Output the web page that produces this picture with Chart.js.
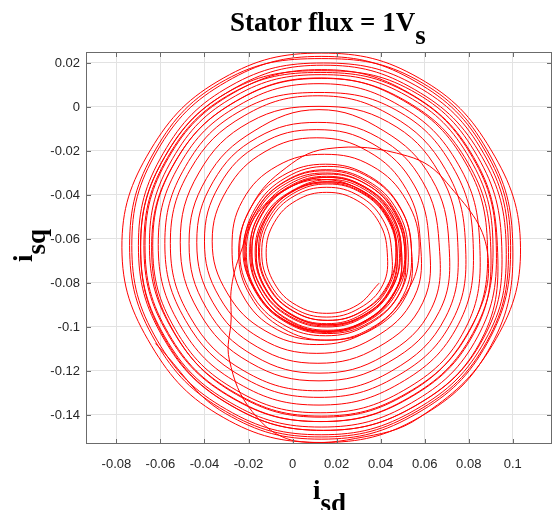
<!DOCTYPE html>
<html><head><meta charset="utf-8">
<script src="https://cdn.jsdelivr.net/npm/chart.js@4.4.1/dist/chart.umd.min.js"></script>
<style>
html,body{margin:0;padding:0;background:#fff;}
#wrap{position:relative;width:553px;height:510px;}
.lbl{position:absolute;font-family:'Liberation Serif','Times New Roman',serif;font-weight:bold;font-size:27px;line-height:27px;color:#000;white-space:nowrap;}
.lbl .sub{position:relative;top:13px;}
#title{left:230px;top:9px;}
#xlab{left:313px;top:477px;}
#ylab{left:10px;top:262px;transform-origin:0 0;transform:rotate(-90deg);}
</style></head>
<body>
<div id="wrap"><canvas id="c"></canvas>
<div class="lbl" id="title">Stator flux = 1V<span class="sub">s</span></div>
<div class="lbl" id="xlab">i<span class="sub">sd</span></div>
<div class="lbl" id="ylab">i<span class="sub">sq</span></div>
</div>
<script>
// tick values
var isdTicks=[-0.08,-0.06,-0.04,-0.02,0,0.02,0.04,0.06,0.08,0.1];
var isqTicks=[-0.14,-0.12,-0.1,-0.08,-0.06,-0.04,-0.02,0,0.02];

// trajectory [isd, isq]
var startArc=[[-0.0623,-0.1075],[-0.0305,-0.1393],[0.013,-0.151],[0.0565,-0.1393],[0.0883,-0.1075]];
var outerA=[
 [0.099,-0.063],[0.0875,-0.020],[0.056,0.0115],[0.013,0.023],[-0.030,0.0115],[-0.0615,-0.020],[-0.073,-0.063],[-0.0615,-0.106],[-0.030,-0.1375],[0.013,-0.149],[0.056,-0.1375],[0.0875,-0.106],
 [0.097,-0.064],[0.0859,-0.0225],[0.0555,0.0079],[0.014,0.019],[-0.0275,0.0079],[-0.0579,-0.0225],[-0.069,-0.064],[-0.0579,-0.1055],[-0.0275,-0.1359],[0.014,-0.147],[0.0555,-0.1359],[0.0859,-0.1055],
 [0.093,-0.063],[0.0823,-0.023],[0.053,0.0063],[0.013,0.017],[-0.027,0.0063],[-0.0563,-0.023],[-0.067,-0.063],[-0.0563,-0.103],[-0.027,-0.1323],[0.013,-0.143],[0.053,-0.1323],[0.0823,-0.103],
 [0.090,-0.064],[0.0797,-0.0255],[0.0515,0.0027],[0.013,0.013],[-0.0255,0.0027],[-0.0537,-0.0255],[-0.064,-0.064],[-0.0537,-0.1025],[-0.0255,-0.1307],[0.013,-0.141],[0.0515,-0.1307],[0.0797,-0.1025]
];
var arcIn=[[0.0885,-0.066],[0.0701,-0.0345],[0.0522,-0.0223],[0.0155,-0.019],[-0.0055,-0.0296],[-0.0191,-0.046],[-0.0245,-0.066],[-0.0191,-0.086],[-0.0045,-0.1006],[0.0155,-0.106],[0.0355,-0.1006],[0.0501,-0.086]];
var innerA=[
 [0.054,-0.065],[0.0489,-0.046],[0.035,-0.0321],[0.016,-0.027],[-0.003,-0.0321],[-0.0169,-0.046],[-0.022,-0.065],[-0.0169,-0.084],[-0.003,-0.0979],[0.016,-0.103],[0.035,-0.0979],[0.0489,-0.084],
 [0.051,-0.066],[0.0462,-0.048],[0.033,-0.0348],[0.015,-0.030],[-0.003,-0.0348],[-0.0162,-0.048],[-0.021,-0.066],[-0.0162,-0.084],[-0.003,-0.0972],[0.015,-0.102],[0.033,-0.0972],[0.0462,-0.084],
 [0.051,-0.067],[0.0463,-0.0495],[0.0335,-0.0367],[0.016,-0.032],[-0.0015,-0.0367],[-0.0155,-0.0495],[-0.019,-0.067],[-0.0143,-0.0845],[-0.0015,-0.0973],[0.016,-0.102],[0.0335,-0.0973],[0.0463,-0.0845],
 [0.0515,-0.0655],[0.0466,-0.0472],[0.0333,-0.0339],[0.015,-0.029],[-0.0033,-0.0339],[-0.0166,-0.0472],[-0.0215,-0.0655],[-0.0166,-0.0838],[-0.0033,-0.0971],[0.015,-0.102],[0.0333,-0.0971],[0.0466,-0.0838],
 [0.0495,-0.0655],[0.0449,-0.0485],[0.0325,-0.0361],[0.0155,-0.0315],[-0.0015,-0.0361],[-0.0139,-0.0485],[-0.0185,-0.0655],[-0.0139,-0.0825],[-0.0015,-0.0949],[0.0155,-0.0995],[0.0325,-0.0949],[0.0449,-0.0825],
 [0.049,-0.066],[0.0446,-0.0495],[0.0325,-0.0374],[0.016,-0.033],[-0.001,-0.0385],[-0.0126,-0.0495],[-0.017,-0.066],[-0.0126,-0.0825],[-0.0005,-0.0946],[0.016,-0.099],[0.0325,-0.0946],[0.0446,-0.0825],
 [0.0475,-0.0665],[0.0432,-0.0505],[0.0315,-0.0388],[0.0155,-0.0345],[-0.0005,-0.0388],[-0.0122,-0.0505],[-0.0165,-0.0665],[-0.0122,-0.0825],[-0.0005,-0.0942],[0.0155,-0.0985],[0.0315,-0.0942],[0.0432,-0.0825],
 [0.047,-0.066],[0.0428,-0.0505],[0.0315,-0.0392],[0.016,-0.035],[0.0005,-0.0392],[-0.0108,-0.0505],[-0.015,-0.066],[-0.0108,-0.0815],[0.0005,-0.0928],[0.016,-0.097],[0.0315,-0.0928],[0.0428,-0.0815]
];
var chordOut=[[0.047,-0.066],[0.0432,-0.050],[0.0315,-0.0383],[0.0155,-0.033],[-0.0015,-0.0366],[-0.0157,-0.048],[-0.0235,-0.066],[-0.0277,-0.0817],[-0.0279,-0.0964],[-0.0287,-0.115],[-0.0183,-0.1385],[0.0004,-0.1517],[0.0285,-0.1507],[0.058,-0.1409],[0.0909,-0.108]];
var outerB=[
 [0.1035,-0.064],[0.0901,-0.0195],[0.0575,0.0131],[0.013,0.0245],[-0.0315,0.0131],[-0.0645,-0.0195],[-0.0775,-0.064],[-0.0641,-0.1085],[-0.0315,-0.1411],[0.013,-0.1525],[0.0575,-0.1411],[0.0901,-0.1085],
 [0.100,-0.063],[0.0883,-0.0195],[0.0565,0.0123],[0.013,0.022],[-0.0305,0.0123],[-0.0623,-0.0195],[-0.074,-0.063],[-0.0623,-0.1065],[-0.0305,-0.1383],[0.013,-0.150],[0.0565,-0.1383],[0.0883,-0.1065],
 [0.098,-0.063],[0.0867,-0.021],[0.056,0.0097],[0.014,0.020],[-0.028,0.0097],[-0.0587,-0.021],[-0.070,-0.063],[-0.0587,-0.105],[-0.028,-0.1357],[0.014,-0.147],[0.056,-0.1357],[0.0867,-0.105],
 [0.095,-0.0635],[0.084,-0.0225],[0.054,0.0075],[0.013,0.0165],[-0.028,0.0075],[-0.058,-0.0225],[-0.069,-0.0635],[-0.058,-0.1045],[-0.028,-0.1345],[0.013,-0.1455],[0.054,-0.1345],[0.084,-0.1045],
 [0.0925,-0.063],[0.0818,-0.023],[0.0525,0.0063],[0.0125,0.0157],[-0.0275,0.0063],[-0.0568,-0.023],[-0.0675,-0.063],[-0.0568,-0.103],[-0.0275,-0.1323],[0.0125,-0.143],[0.0525,-0.1323],[0.0818,-0.103],
 [0.091,-0.0625],[0.0805,-0.0235],[0.052,0.005],[0.013,0.0147],[-0.026,0.005],[-0.0545,-0.0235],[-0.065,-0.0625],[-0.0545,-0.1015],[-0.026,-0.130],[0.013,-0.1405],[0.052,-0.130],[0.0805,-0.1015],
 [0.0885,-0.063],[0.0783,-0.025],[0.0505,0.0028],[0.0125,0.0132],[-0.0255,0.0028],[-0.0533,-0.025],[-0.0635,-0.063],[-0.0533,-0.101],[-0.0255,-0.1288],[0.0125,-0.139],[0.0505,-0.1288],[0.0783,-0.101],
 [0.085,-0.0625],[0.0752,-0.026],[0.0485,0.0007],[0.012,0.0106],[-0.0245,0.0007],[-0.0512,-0.026],[-0.061,-0.0625],[-0.0512,-0.099],[-0.0245,-0.1257],[0.012,-0.1355],[0.0485,-0.1257],[0.0752,-0.099],
 [0.082,-0.062],[0.0726,-0.027],[0.047,-0.0014],[0.012,0.0066],[-0.023,-0.0014],[-0.0486,-0.027],[-0.058,-0.062],[-0.0486,-0.097],[-0.023,-0.1226],[0.012,-0.132],[0.047,-0.1226],[0.0726,-0.097],
 [0.0785,-0.062],[0.0695,-0.0285],[0.045,-0.004],[0.0115,0.0051],[-0.022,-0.004],[-0.0465,-0.0285],[-0.0555,-0.062],[-0.0465,-0.0955],[-0.022,-0.120],[0.0115,-0.129],[0.045,-0.120],[0.0695,-0.0955],
 [0.075,-0.0615],[0.0666,-0.030],[0.0435,-0.0069],[0.012,0.0003],[-0.0195,-0.0069],[-0.0426,-0.030],[-0.051,-0.0615],[-0.0426,-0.093],[-0.0195,-0.1161],[0.012,-0.1245],[0.0435,-0.1161],[0.0666,-0.093],
 [0.071,-0.062],[0.0631,-0.0325],[0.0415,-0.0109],[0.012,-0.0012],[-0.0175,-0.0109],[-0.0391,-0.0325],[-0.047,-0.062],[-0.0391,-0.0915],[-0.0175,-0.1131],[0.012,-0.121],[0.0415,-0.1131],[0.0631,-0.0915],
 [0.0665,-0.0615],[0.0591,-0.034],[0.039,-0.0139],[0.0115,-0.0070],[-0.016,-0.0139],[-0.0361,-0.034],[-0.0435,-0.0615],[-0.0361,-0.089],[-0.016,-0.1091],[0.0115,-0.1165],[0.039,-0.1091],[0.0591,-0.089],
 [0.062,-0.061],[0.0552,-0.0355],[0.0365,-0.0168],[0.011,-0.0103],[-0.0145,-0.0168],[-0.0332,-0.0355],[-0.040,-0.061],[-0.0332,-0.0865],[-0.0145,-0.1052],[0.011,-0.112],[0.0365,-0.1052],[0.0552,-0.0865],
 [0.058,-0.061],[0.0517,-0.0375],[0.0345,-0.0203],[0.011,-0.014],[-0.0125,-0.0203],[-0.0297,-0.0375],[-0.0365,-0.061],[-0.0297,-0.0845],[-0.0125,-0.1017],[0.011,-0.108],[0.0345,-0.1017],[0.0517,-0.0845]
];
var innerB=[
 [0.0575,-0.064],[0.0517,-0.0425],[0.036,-0.0268],[0.0145,-0.0215],[-0.007,-0.0268],[-0.0227,-0.0425],[-0.0275,-0.064],[-0.0227,-0.0855],[-0.007,-0.1012],[0.0145,-0.106],[0.036,-0.1012],[0.0517,-0.0855],
 [0.054,-0.065],[0.0488,-0.0455],[0.0345,-0.0312],[0.015,-0.026],[-0.0045,-0.0312],[-0.0188,-0.0455],[-0.024,-0.065],[-0.0188,-0.0845],[-0.0045,-0.0988],[0.015,-0.104],[0.0345,-0.0988],[0.0488,-0.0845],
 [0.0525,-0.0655],[0.0475,-0.047],[0.034,-0.0335],[0.0155,-0.0285],[-0.003,-0.0335],[-0.0165,-0.047],[-0.0225,-0.0655],[-0.0165,-0.084],[-0.003,-0.0975],[0.0155,-0.1025],[0.034,-0.0975],[0.0475,-0.084],
 [0.0515,-0.066],[0.0467,-0.0482],[0.0338,-0.0353],[0.016,-0.0305],[-0.0018,-0.0353],[-0.0147,-0.0482],[-0.0195,-0.066],[-0.0147,-0.0838],[-0.0018,-0.0967],[0.016,-0.1015],[0.0338,-0.0967],[0.0467,-0.0838],
 [0.0495,-0.066],[0.0449,-0.049],[0.0325,-0.0366],[0.0155,-0.032],[-0.0015,-0.0366],[-0.0139,-0.049],[-0.0185,-0.066],[-0.0139,-0.083],[-0.0015,-0.0954],[0.0155,-0.100],[0.0325,-0.0954],[0.0449,-0.083],
 [0.0485,-0.0665],[0.0441,-0.0502],[0.0323,-0.0384],[0.016,-0.034],[-0.0003,-0.0384],[-0.0121,-0.0502],[-0.0165,-0.0665],[-0.0121,-0.0828],[-0.0003,-0.0946],[0.016,-0.099],[0.0323,-0.0946],[0.0441,-0.0828],
 [0.0475,-0.0655],[0.0433,-0.0497],[0.0318,-0.0382],[0.016,-0.034],[0.0002,-0.0382],[-0.0113,-0.0497],[-0.0155,-0.0655],[-0.0113,-0.0813],[0.0002,-0.0928],[0.016,-0.097],[0.0318,-0.0928],[0.0433,-0.0813],
 [0.045,-0.066],[0.041,-0.0512],[0.0303,-0.0405],[0.0155,-0.0365],[0.0007,-0.0405],[-0.010,-0.0512],[-0.014,-0.066],[-0.010,-0.0808],[0.0007,-0.0915],[0.0155,-0.0955],[0.0303,-0.0915],[0.041,-0.0808],
 [0.043,-0.0663],[0.0393,-0.0525],[0.0293,-0.0425],[0.0155,-0.0388],[0.0017,-0.0425],[-0.0083,-0.0525],[-0.012,-0.0663],[-0.0083,-0.0801],[0.0017,-0.0901],[0.0155,-0.0938],[0.0293,-0.0901],[0.0393,-0.0801]
];

var path=[].concat(startArc,outerA,arcIn,innerA,chordOut,outerB,innerB).map(function(p){return {x:p[0],y:p[1]};});

var boxPlugin={id:'box',afterDatasetsDraw:function(ch){
  var a=ch.chartArea,c=ch.ctx,xs=ch.scales.x,ys=ch.scales.y;
  c.save();
  c.strokeStyle='#6b6b6b';c.lineWidth=1;
  c.strokeRect(Math.round(a.left)+0.5,Math.round(a.top)+0.5,Math.round(a.right-a.left)-1,Math.round(a.bottom-a.top)-1);
  c.beginPath();
  isdTicks.forEach(function(v){var p=Math.round(xs.getPixelForValue(v))+0.5;c.moveTo(p,a.top);c.lineTo(p,a.top+5);c.moveTo(p,a.bottom);c.lineTo(p,a.bottom-5);});
  isqTicks.forEach(function(v){var p=Math.round(ys.getPixelForValue(v))+0.5;c.moveTo(a.left,p);c.lineTo(a.left+5,p);c.moveTo(a.right,p);c.lineTo(a.right-5,p);});
  c.stroke();
  c.restore();
}};

var tickFont={family:'Liberation Sans, Arial, sans-serif',size:13};
function fmt(v){return String(Math.round(v*100)/100);}

new Chart(document.getElementById('c'),{
  type:'scatter',
  data:{datasets:[{data:path,showLine:true,borderColor:'#ff0000',borderWidth:1,pointRadius:0,tension:0.4,fill:false}]},
  options:{responsive:true,maintainAspectRatio:false,animation:false,
    layout:{padding:{top:52,right:1,left:0,bottom:0}},
    plugins:{legend:{display:false},tooltip:{enabled:false}},
    scales:{
      x:{type:'linear',min:-0.0938,max:0.1178,
        afterBuildTicks:function(s){s.ticks=isdTicks.map(function(v){return {value:v};});},
        afterFit:function(s){s.height=66;},
        grid:{color:'#e2e2e2',drawTicks:false},border:{display:false},
        ticks:{color:'#262626',font:tickFont,padding:13,maxRotation:0,callback:fmt}},
      y:{type:'linear',min:-0.1532,max:0.025,
        afterBuildTicks:function(s){s.ticks=isqTicks.map(function(v){return {value:v};});},
        afterFit:function(s){s.width=86;},
        grid:{color:'#e2e2e2',drawTicks:false},border:{display:false},
        ticks:{color:'#262626',font:tickFont,padding:6,callback:fmt}}
    }
  },
  plugins:[boxPlugin]
});
</script>
</body></html>
